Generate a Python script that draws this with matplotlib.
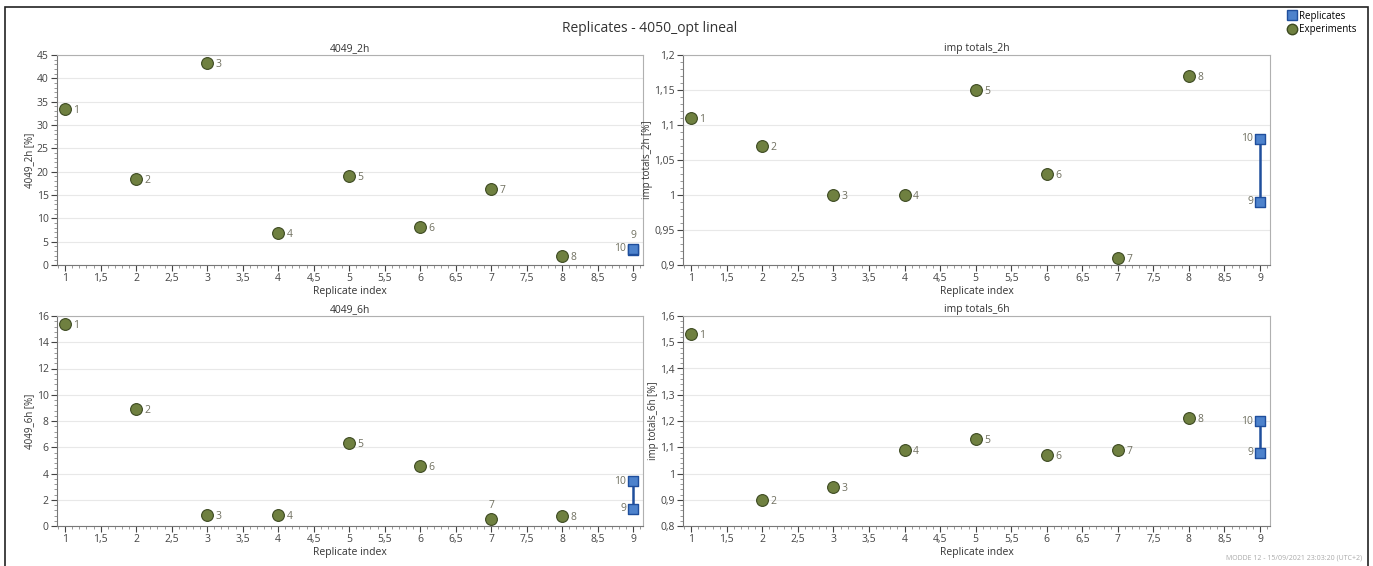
import matplotlib.pyplot as plt
from matplotlib.patches import Rectangle
from matplotlib.ticker import AutoMinorLocator, FuncFormatter, MultipleLocator
from matplotlib.lines import Line2D

plt.rcParams['font.family'] = ['Open Sans', 'DejaVu Sans']

# experiment runs 1..8 on replicate index 1..8, replicates 9 and 10 on index 9
exp_index = [1, 2, 3, 4, 5, 6, 7, 8]
exp_labels = ['1', '2', '3', '4', '5', '6', '7', '8']
rep_index = [9, 9]
rep_labels = ['9', '10']

# 4049_2h [%]
y_4049_2h = [33.5, 18.5, 43.3, 6.8, 19.0, 8.2, 16.3, 2.0]
rep_4049_2h = [3.3, 3.5]
# imp totals_2h [%]
y_imp_2h = [1.11, 1.07, 1.00, 1.00, 1.15, 1.03, 0.91, 1.17]
rep_imp_2h = [0.99, 1.08]
# 4049_6h [%]
y_4049_6h = [15.4, 8.9, 0.85, 0.85, 6.3, 4.6, 0.5, 0.75]
rep_4049_6h = [1.3, 3.4]
# imp totals_6h [%]
y_imp_6h = [1.53, 0.90, 0.95, 1.09, 1.13, 1.07, 1.09, 1.21]
rep_imp_6h = [1.08, 1.20]

green = '#6f8040'
green_edge = '#3d4a22'
blue = '#4d82cc'
blue_edge = '#1f4e9c'
label_col = '#707060'

fig = plt.figure(figsize=(13.73, 5.66), dpi=100)
fig.patches.append(Rectangle((0.004, -0.01), 0.992, 0.998, transform=fig.transFigure,
                             fill=False, edgecolor='#222222', linewidth=1.2))

W, H = 1373.0, 566.0


def comma(v, pos):
    s = ('%.2f' % v).rstrip('0').rstrip('.')
    return s.replace('.', ',')


def panel(rect, title, ylabel, ys, reps, ylim, ymajor, special):
    ax = fig.add_axes(rect)
    ax.set_xlim(0.885, 9.14)
    ax.set_ylim(*ylim)
    ax.xaxis.set_major_locator(MultipleLocator(0.5))
    ax.yaxis.set_major_locator(MultipleLocator(ymajor))
    ax.xaxis.set_minor_locator(AutoMinorLocator(5))
    ax.yaxis.set_minor_locator(AutoMinorLocator(5))
    ax.xaxis.set_major_formatter(FuncFormatter(comma))
    ax.yaxis.set_major_formatter(FuncFormatter(comma))
    ax.tick_params(labelsize=7.5, colors='#444444', length=4, width=0.8, pad=2)
    ax.tick_params(which='minor', length=2, width=0.6, colors='#888888')
    ax.grid(axis='y', color='#e8e8e8', linewidth=0.8)
    ax.set_axisbelow(True)
    for s in ax.spines.values():
        s.set_color('#b0b0b0')
    ax.spines['left'].set_color('#777777')
    ax.spines['bottom'].set_color('#777777')
    ax.set_title(title, fontsize=7.5, color='#333333', pad=3)
    ax.set_xlabel('Replicate index', fontsize=7.5, color='#333333', labelpad=1)
    ax.set_ylabel(ylabel, fontsize=7, color='#333333', labelpad=1)

    ax.plot(rep_index, reps, color=blue_edge, linewidth=1.8, zorder=2)
    ax.scatter(rep_index, reps, marker='s', s=48, color=blue, edgecolors=blue_edge,
               linewidths=1.0, zorder=3, clip_on=False)
    ax.scatter(exp_index, ys, marker='o', s=72, color=green, edgecolors=green_edge,
               linewidths=0.8, zorder=3, clip_on=False)

    for x, y, t in zip(exp_index, ys, exp_labels):
        off, ha, va = special.get(t, ((6, -1), 'left', 'center'))
        ax.annotate(t, (x, y), xytext=off, textcoords='offset points',
                    fontsize=7.5, color=label_col, ha=ha, va=va)
    for x, y, t in zip(rep_index, reps, rep_labels):
        off, ha, va = special.get(t, ((-5, 0), 'right', 'center'))
        ax.annotate(t, (x, y), xytext=off, textcoords='offset points',
                    fontsize=7.5, color=label_col, ha=ha, va=va)
    return ax


def rect(l, r, t, b):
    return [l / W, 1 - b / H, (r - l) / W, (b - t) / H]


panel(rect(57, 643, 55, 265), '4049_2h', '4049_2h [%]', y_4049_2h, rep_4049_2h,
      (0, 45), 5, {'9': ((0, 6), 'center', 'bottom')})
panel(rect(683, 1270, 55, 265), 'imp totals_2h', 'imp totals_2h [%]', y_imp_2h, rep_imp_2h,
      (0.9, 1.2), 0.05, {})
panel(rect(57, 643, 316, 526), '4049_6h', '4049_6h [%]', y_4049_6h, rep_4049_6h,
      (0, 16), 2, {'7': ((0, 6), 'center', 'bottom')})
panel(rect(683, 1270, 316, 526), 'imp totals_6h', 'imp totals_6h [%]', y_imp_6h, rep_imp_6h,
      (0.8, 1.6), 0.1, {})

fig.text(650 / W, 1 - 28 / H, 'Replicates - 4050_opt lineal', ha='center', va='center',
         fontsize=10, color='#333333')

handles = [Line2D([], [], marker='s', linestyle='none', markersize=6.5, color=blue,
                  markeredgecolor=blue_edge),
           Line2D([], [], marker='o', linestyle='none', markersize=7.5, color=green,
                  markeredgecolor=green_edge)]
fig.legend(handles, ['Replicates', 'Experiments'], loc='upper left',
           bbox_to_anchor=(1280 / W, 1 - 4 / H), frameon=False, fontsize=7,
           handletextpad=0.3, labelspacing=0.25, handlelength=1.0, borderpad=0.2)

fig.text(1362 / W, 1 - 558 / H, 'MODDE 12 - 15/09/2021 23:03:20 (UTC+2)', ha='right',
         va='center', fontsize=5, color='#aaaaaa')

plt.savefig('out.png', dpi=100)
